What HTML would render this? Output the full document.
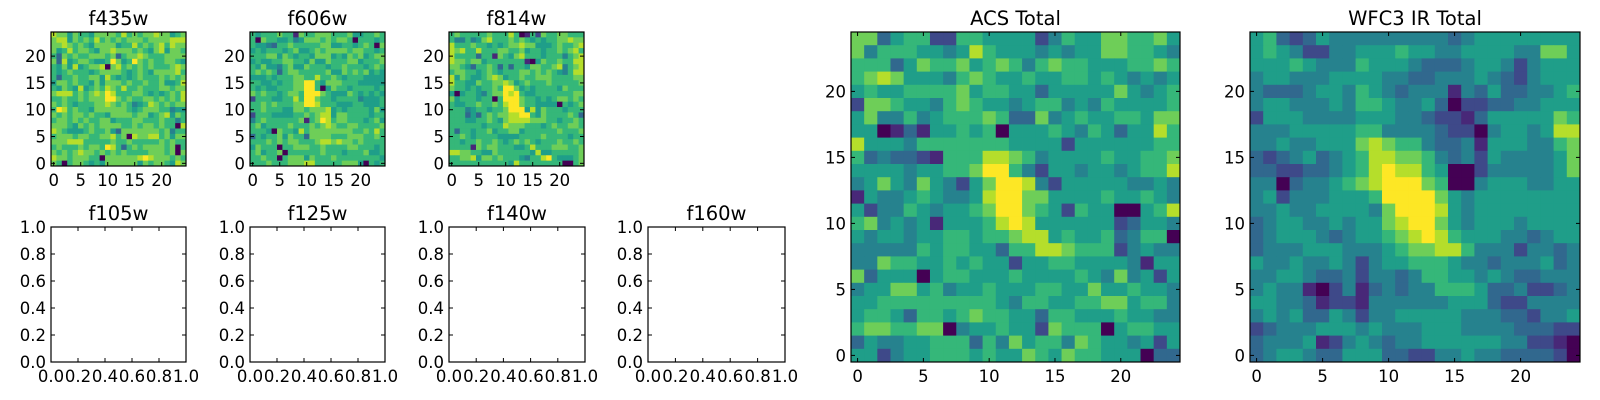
<!DOCTYPE html>
<html><head><meta charset="utf-8">
<style>
html,body{margin:0;padding:0;background:#fff;}
svg{display:block;font-family:"DejaVu Sans","Liberation Sans",sans-serif;}
</style></head>
<body>
<svg id="fig" width="1600" height="400" viewBox="0 0 1600 400" xmlns="http://www.w3.org/2000/svg"></svg>
<script>
// Heatmap data: each string is one row, top row (y=24) first; digits 0-9 = intensity level
const f435w = ["8775766577776867677877567","7885767686767677767777888","7787676577775668676786877","7568677657787776765785776","6376766777673677876667777","7385677655697569767667765","6575856778078676767666787","6567666567777656765777786","6366766775865656766676767","5776766575777676676675568","6576585676876866766677677","7888676787986667765656768","6676676777997676677676768","7676566677876764568767677","6986766577777765677766455","7676776766577776775678576","6776767667756667766676646","7776576767777667677676608","8765556766753777777767466","6777677667786708778867577","7778886666676676666676766","6766676776986367677776706","7676787767676766667776707","8776777660777777898777676","7606776565777777576776587"];
const f606w = ["6566676617667776667556676","6076655645777676776066656","6554366766666775566567607","5656665675567677776776656","6667757656657775657675677","5655667766575576667756667","6575546755766656676665676","6767636776666675576767565","5556566677668667656665555","6655656677996577766655555","6565566677996057665666656","7676656776999765557656565","2666556686997665666645556","6676766677998666555665556","6676665577677785656666575","2666555566767885776666566","4676666667167986776665675","6756666766676787667766667","6665076658677777777667686","3656675766377776667776676","6667676776667887877676666","5766606677766766667766656","6756670666666766656667556","6676606777576667666666665","6667666777886666677750656"];
const f814w = ["6766666766686016276677666","6446457866676765656677877","8666766565677877555676678","8786686667766756656676786","8666636617657866656664678","8776775666666610576676688","7765366763636657766784678","6776656765666776767654688","8576556787566766777666677","8665576677875676667666667","7665656676997565666657666","5056654677989655666666677","7566656606999766565677676","6556676676899766555506567","6664566566799958576665666","6663536767788996576666763","6665566765788887776656676","6666665666877766656766776","6366566756677566666676667","6676566665555666676666566","6656676676567676566676676","6666176776665568666777667","8877665576666665855666667","6677857767666546689655567","6666666666658666666660067"];
const acsTotal = ["7735662266555524655776675","7466655458655545455776654","6663576675676467665556676","6787555467655655665654545","5655666675665535555575456","2776554676554566454655556","5744645666763374565566577","5501315565605556546535586","8555466666665555255555566","6343321666887645555655667","5555455667996425545545668","4575475425799842555554454","1544565445899775555655654","5244654556799765265500568","6745451555689855555523554","5455455665667885655634660","4444465665536688766624544","4476655656552556655554155","7355505665556555565474525","4557756455655566557556554","5566666666654665566775664","5665366567665536655565544","6776677045565527666056655","3544556663647566476554525","5524556665655765766555033"];
const wfc3Total = ["5632354444444443455555555","5654224455565544555544775","5556544465554333455424555","4554445555443344454324555","4333455465434441435334456","4554445466544530223344555","2555444455544322135555576","4445555566444432204554588","4454455578766433415554467","3234534568877643425444457","3322334568988650024444457","4403445678999760045554455","4524445556999975455555555","4454455554799985455555555","3455445455789975455545555","3455543455678986555443455","3444555444567788644424434","5445445424556665443444534","4455433424434665545433444","4544102413434466653342234","5544312214444445553224444","4545335424455555444332445","2344455545444555444433322","3444512454344555555442210","3455433555332244544333320"];
const imgTicks = [0,5,10,15,20];
const unitTicks = [0,0.2,0.4,0.6,0.8,1.0];
const unitTickLabels = ["0.0","0.2","0.4","0.6","0.8","1.0"];

const viridis = ["#440154","#482878","#3e4989","#31688e","#26828e","#1f9e89","#35b779","#6ece58","#b5de2b","#fde725"];
const NS="http://www.w3.org/2000/svg";
const svg=document.getElementById('fig');
function mk(tag,attrs,parent){const e=document.createElementNS(NS,tag);for(const k in attrs)e.setAttribute(k,attrs[k]);(parent||svg).appendChild(e);return e;}

function axesFrame(g,x0,y0,w,h,xs,ys,ticks,labels,title){
  ticks.forEach((v,i)=>{
    const px=xs(v), py=ys(v);
    mk('line',{x1:px,y1:y0+h,x2:px,y2:y0+h-4,stroke:'#000','stroke-width':1},g);
    mk('line',{x1:px,y1:y0,x2:px,y2:y0+4,stroke:'#000','stroke-width':1},g);
    mk('line',{x1:x0,y1:py,x2:x0+4,y2:py,stroke:'#000','stroke-width':1},g);
    mk('line',{x1:x0+w,y1:py,x2:x0+w-4,y2:py,stroke:'#000','stroke-width':1},g);
    const tx=mk('text',{x:px,y:y0+h+20,'text-anchor':'middle','font-size':16.5},g);
    
    
    tx.textContent=labels[i];
    const ty=mk('text',{x:x0-5,y:py+6,'text-anchor':'end','font-size':16.5},g);
    
    
    ty.textContent=labels[i];
  });
  const fr=mk('rect',{x:x0,y:y0,width:w,height:h,fill:'none',stroke:'#000','stroke-width':1.2},g);
  
  
  const t=mk('text',{x:x0+w/2,y:y0-7,'text-anchor':'middle','font-size':19.5},g);
  
  
  t.textContent=title;
}

function heatmap(name,data,x0,y0,w,h,title){
  const g=mk('g',{});
  
  
  const n=data.length, m=data[0].length;
  const cw=w/m, ch=h/n;
  const xs=v=>x0+(v+0.5)*cw;
  const ys=v=>y0+h-(v+0.5)*ch;
  data.forEach((row,r)=>{
    const yv=n-1-r;
    for(let c=0;c<m;c++){
      const cell=mk('rect',{x:xs(c)-cw/2,y:ys(yv)-ch/2,width:cw+0.4,height:ch+0.4,fill:viridis[+row[c]]},g);
      
      
    }
  });
  axesFrame(g,x0,y0,w,h,xs,ys,imgTicks,imgTicks.map(String),title);
}

function emptyPanel(name,x0,y0,w,h,title){
  const g=mk('g',{});
  
  
  const xs=v=>x0+v*w, ys=v=>y0+h-v*h;
  axesFrame(g,x0,y0,w,h,xs,ys,unitTicks,unitTickLabels,title);
}

heatmap('f435w-panel',f435w,51,32,135,134,'f435w');
heatmap('f606w-panel',f606w,250,32,135,134,'f606w');
heatmap('f814w-panel',f814w,449,32,135,134,'f814w');
emptyPanel('f105w-panel',51,227,135,135,'f105w');
emptyPanel('f125w-panel',250,227,135,135,'f125w');
emptyPanel('f140w-panel',449,227,136,135,'f140w');
emptyPanel('f160w-panel',648,227,137,135,'f160w');
heatmap('acs-total-panel',acsTotal,851,32,329,330,'ACS Total');
heatmap('wfc3-ir-total-panel',wfc3Total,1250,32,330,330,'WFC3 IR Total');
</script>
</body></html>
